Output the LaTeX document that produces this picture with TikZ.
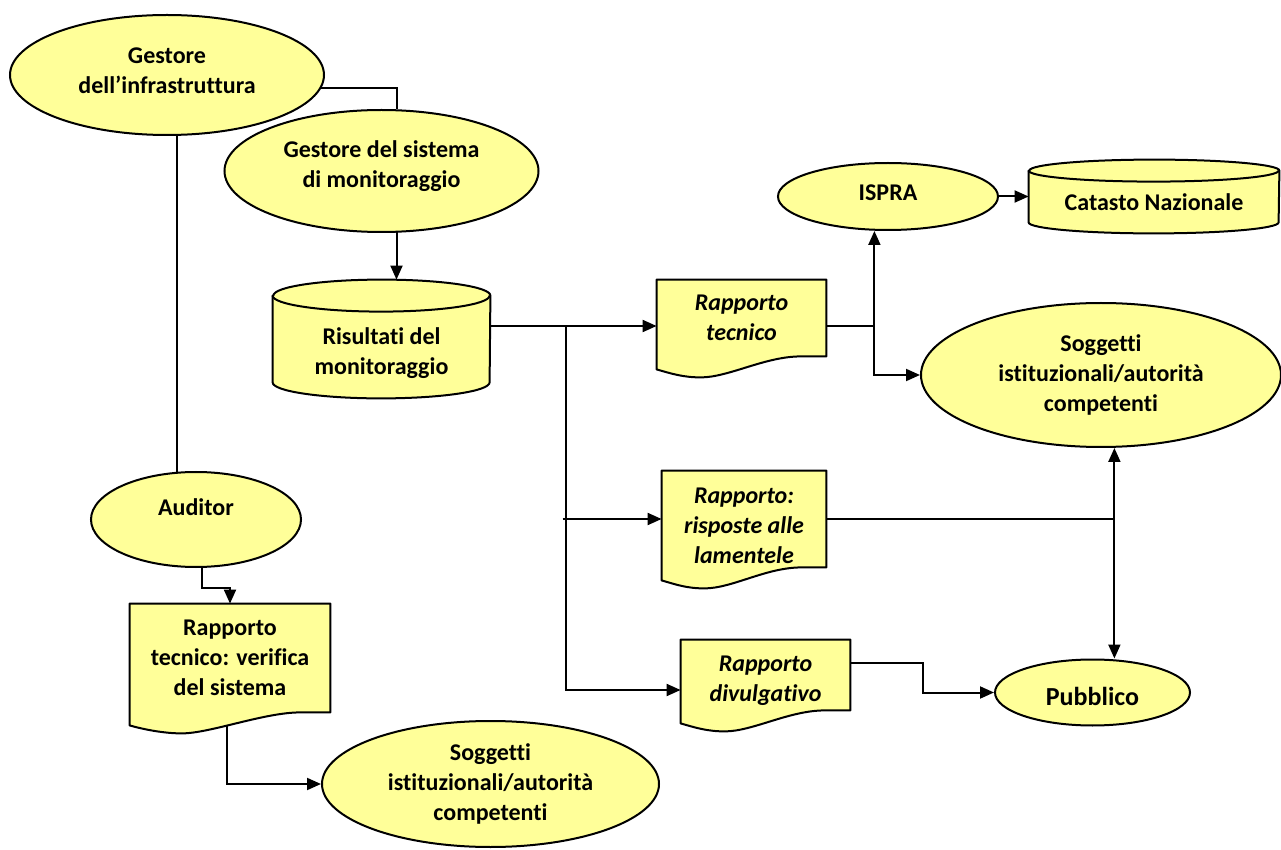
\documentclass[tikz,border=0pt]{standalone}
\usepackage{fontspec}
\setmainfont{Carlito}[Ligatures={TeX,NoCommon}]
\usetikzlibrary{shapes.geometric,arrows.meta,calc}
\definecolor{yfill}{HTML}{FFFF99}
\pgfdeclarelayer{edges}
\pgfdeclarelayer{shapes}
\pgfsetlayers{edges,shapes,main}

\tikzset{
  lbl/.style={font=\fontsize{12}{15}\selectfont\bfseries, align=center, inner sep=0pt},
  ital/.style={font=\fontsize{12}{15}\selectfont\bfseries\itshape},
  oval/.style={lbl, ellipse, draw, fill=yfill, line width=1pt},
  box/.style={lbl, rectangle},
  line/.style={line width=1pt},
  arr/.style={line, -{Triangle[length=7pt,width=6pt]}},
  outline/.style={draw, fill=yfill, line width=1pt, line join=round}
}

% document symbol behind node #1
\newcommand{\docshape}[1]{%
  \begin{pgfonlayer}{shapes}
  \path[outline] (#1.north west) -- (#1.north east) -- (#1.south east)
    -- ($(#1.south east)!0.15!(#1.south west)$)
    .. controls +(-18pt,0pt) and +(14pt,0pt) .. ($(#1.south west)!0.26!(#1.south east)+(0pt,-10.5pt)$)
    .. controls +(-9pt,0pt) and +(7pt,-2pt) .. ($(#1.south west)+(0pt,-6.5pt)$) -- cycle;
  \end{pgfonlayer}}

% cylinder behind node #1, radii #2 and #3
\newcommand{\cylshape}[3]{%
  \begin{pgfonlayer}{shapes}
  \path[outline] (#1.north west) -- ([yshift=#3]#1.south west)
    arc[start angle=180, end angle=360, x radius=#2, y radius=#3]
    -- (#1.north east) arc[start angle=0, end angle=180, x radius=#2, y radius=#3] -- cycle;
  \draw[line] (#1.north west) arc[start angle=180, end angle=360, x radius=#2, y radius=#3];
  \end{pgfonlayer}}

% strut that pushes a text block down
\newcommand{\topstrut}[1]{\rule{0pt}{#1}}

\begin{document}
\begin{tikzpicture}[x=0.5pt, y=-0.5pt]
\useasboundingbox (0,0) rectangle (1281,850);

\node[oval, minimum width=157pt, minimum height=60pt, text depth=4.5pt] (gi) at (167,75) {Gestore\\dell’infrastruttura};
\node[oval, minimum width=157pt, minimum height=61pt, text depth=6.6pt] (gs) at (381.5,171) {Gestore del sistema\\di monitoraggio};
\node[box, minimum width=108.5pt, minimum height=51pt, text depth=0pt] (ris) at (381.5,347) {\topstrut{12.5pt}Risultati del\\monitoraggio};
\cylshape{ris}{54.25pt}{8pt}
\coordinate (ristop) at ([yshift=8pt]ris.north);

\node[oval, minimum width=110pt, minimum height=33.5pt, text depth=4pt] (is) at (888,196.5) {ISPRA};
\node[box, minimum width=125pt, minimum height=31pt] (cat) at (1154,202) {Catasto Nazionale};
\cylshape{cat}{62.5pt}{5.5pt}

\node[box, ital, minimum width=84.5pt, minimum height=38pt] (rt) at (741.5,318) {Rapporto\\tecnico};
\docshape{rt}
\node[oval, minimum width=180pt, minimum height=72pt] (sog1) at (1101,375) {Soggetti\\istituzionali/autorità\\competenti};

\node[box, ital, minimum width=82pt, minimum height=48pt] (rl) at (744,519) {\topstrut{14.2pt}Rapporto:\\risposte alle\\lamentele};
\docshape{rl}
\node[box, ital, minimum width=84.5pt, minimum height=35pt, text depth=0pt] (rd) at (765.5,675) {\topstrut{11.6pt}Rapporto\\divulgativo};
\docshape{rd}
\node[oval, minimum width=97.5pt, minimum height=33pt, font=\fontsize{13}{15}\selectfont\bfseries, text height=12.7pt] (pub) at (1092.5,692.5) {Pubblico};

\node[oval, minimum width=105pt, minimum height=47.5pt, text depth=12pt] (au) at (196,519.5) {Auditor};
\node[box, minimum width=100pt, minimum height=54pt] (rv) at (230,658) {Rapporto\\tecnico: verifica\\del sistema};
\docshape{rv}
\node[oval, minimum width=168.5pt, minimum height=63pt] (sog2) at (490.5,784) {Soggetti\\istituzionali/autorità\\competenti};

\begin{pgfonlayer}{edges}
\draw[line] ([yshift=-6.5pt]gi.center) -| ([xshift=7.5pt]gs.north);
\draw[line] ([xshift=5pt]gi.center) -- ([xshift=5pt]gi.center |- au.center);
\draw[arr] ([xshift=7.5pt]gs.center) -- ([xshift=7.5pt]gs.center |- ristop);

\coordinate (rtin) at ([yshift=-4pt]rt.west);
\coordinate (split) at ([xshift=-45.5pt]rtin);
\draw[arr] (ris.center |- rtin) -- (rtin);
\draw[arr] (split) |- ([yshift=-7.5pt]rd.west);
\draw[arr] ($(split |- rl.west)+(-1.5pt,0pt)$) -- (rl.west);

\coordinate (rtsplit) at ($(rt.east |- rtin)+(24pt,0pt)$);
\draw[line] (rt.center |- rtsplit) -- (rtsplit);
\draw[arr] (rtsplit) -- (rtsplit |- is.south);
\draw[arr] (rtsplit) |- (sog1.west);
\draw[arr] (is.center) -- (is.center -| cat.west);

\coordinate (rlsplit) at ($(rl.east)+(144pt,0pt)$);
\draw[line] (rl.center) -- (rlsplit);
\draw[arr] (rlsplit) -- (rlsplit |- sog1.south);
\draw[arr] (rlsplit) -- (rlsplit |- pub.north);

\coordinate (rdbend) at ($(rd.east)+(36.5pt,6pt)$);
\draw[arr] (rd.center |- rdbend) -- (rdbend) |- (pub.west);

\coordinate (aubend) at ($(au.south)+(3pt,-10pt)$);
\draw[arr] ([xshift=3pt]au.center) -- (aubend) -| (rv.north);
\draw[arr] ([xshift=-1.5pt]rv.center) |- (sog2.west);
\end{pgfonlayer}
\end{tikzpicture}
\end{document}
